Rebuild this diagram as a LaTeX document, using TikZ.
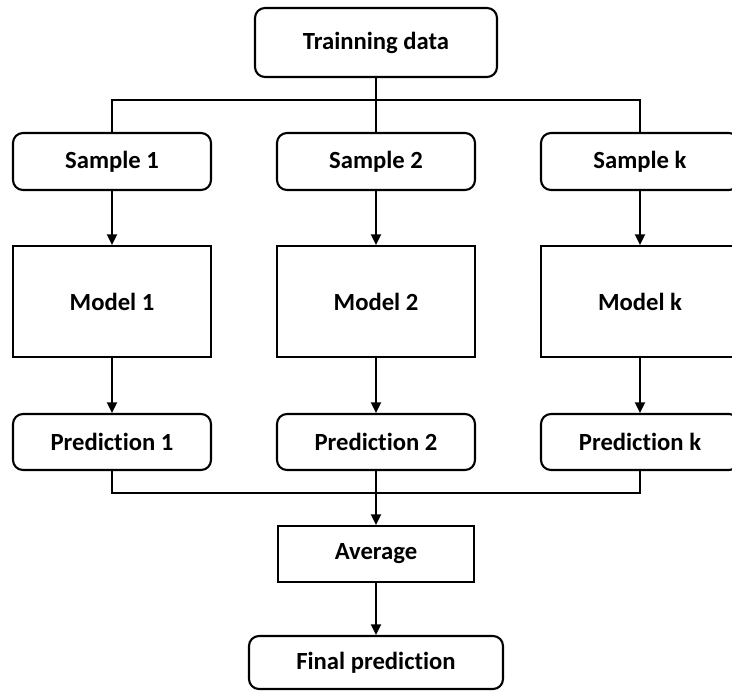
\documentclass[tikz,border=0pt]{standalone}
\usepackage{fontspec}
\setmainfont{Carlito}[Ligatures=NoCommon]
\usetikzlibrary{arrows.meta}
\begin{document}
\begin{tikzpicture}[x=0.75pt,y=-0.75pt,
  box/.style={draw=black, line width=1.6pt, fill=white, inner sep=0pt,
    minimum width=#1*0.75pt, align=center,
    font=\fontsize{18.5pt}{22pt}\selectfont\bfseries},
  rbox/.style={box=#1, rounded corners=7.5pt},
  link/.style={draw=black, line width=1.5pt},
  arrow/.style={link, -{Triangle[length=8pt, width=7.5pt]}}]
\useasboundingbox (0,0) rectangle (732,692);
\clip (0,0) rectangle (732,692);
\fill[white] (0,0) rectangle (732,692);

% source
\node[rbox=242, minimum height=51.75pt] (train) at (376,42.5) {Trainning data};

% bootstrap samples
\node[rbox=198, minimum height=42.75pt] (s1) at (112,161.5) {Sample 1};
\node[rbox=198, minimum height=42.75pt] (s2) at (376,161.5) {Sample 2};
\node[rbox=198, minimum height=42.75pt] (sk) at (640,161.5) {Sample k};

% models
\node[box=198, minimum height=83.25pt] (m1) at (112,301.5) {Model 1};
\node[box=198, minimum height=83.25pt] (m2) at (376,301.5) {Model 2};
\node[box=198, minimum height=83.25pt] (mk) at (640,301.5) {Model k};

% predictions
\node[rbox=198, minimum height=42pt] (p1) at (112,442) {Prediction 1};
\node[rbox=198, minimum height=42pt] (p2) at (376,442) {Prediction 2};
\node[rbox=198, minimum height=42pt] (pk) at (640,442) {Prediction k};

% aggregation
\node[box=196, minimum height=42pt] (avg) at (376,554) {Average};
\node[rbox=254, minimum height=39.75pt] (final) at (376,662.5) {Final prediction};

\coordinate (split) at (376,100);
\coordinate (join) at (376,493);

% fan-out
\draw[link] (train.south) -- (s2.north);
\draw[link] (s1.north) |- (split) -| (sk.north);

% sample -> model -> prediction
\foreach \i in {1,2,k} {
  \draw[arrow] (s\i.south) -- (m\i.north);
  \draw[arrow] (m\i.south) -- (p\i.north);
}

% fan-in
\draw[link] (p1.south) |- (join) -| (pk.south);
\draw[link] (p2.south) -- (join);
\draw[arrow] (join) -- (avg.north);
\draw[arrow] (avg.south) -- (final.north);
\end{tikzpicture}
\end{document}
